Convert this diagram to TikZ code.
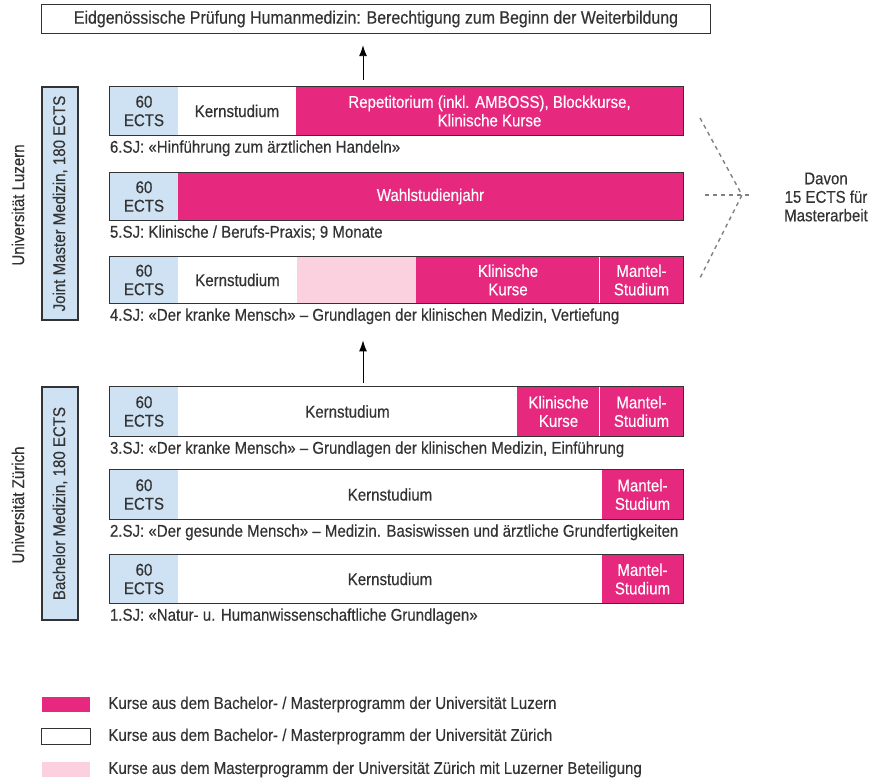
\documentclass[tikz,border=0pt]{standalone}
\usepackage{fontspec}
\setmainfont{Liberation Sans}[FakeStretch=0.885, FakeBold=0.35]
\usetikzlibrary{arrows.meta}
\usetikzlibrary{positioning}
\definecolor{luzern}{HTML}{E6287F}
\definecolor{ectsblue}{HTML}{CFE2F3}
\definecolor{mixpink}{HTML}{FBD0DF}
\definecolor{txt}{HTML}{333333}
\tikzset{>=latex}
\tikzstyle{seg}=[inner sep=0, align=center, text=txt, font=\fontsize{17}{18.5}\selectfont]
\tikzstyle{ects}=[seg, fill=ectsblue]
\tikzstyle{lu}=[seg, fill=luzern, text=white]
\tikzstyle{zh}=[seg, fill=white]
\tikzstyle{mix}=[seg, fill=mixpink]
\tikzstyle{bar frame}=[draw=txt, line width=1.2]
\tikzstyle{caption}=[anchor=north west, inner sep=0, text=txt, font=\fontsize{17}{18.5}\selectfont]
\tikzstyle{uni}=[inner sep=0, text=txt, rotate=90, font=\fontsize{17}{18.5}\selectfont]
\tikzstyle{step arrow}=[-{Latex[length=11,width=8]}, draw=black, line width=0.9]
\tikzstyle{thesis}=[draw=gray, line width=1.4, dash pattern=on 4pt off 4pt]
% segment: style, name, x1, x2, y1, y2
\newcommand\segbox[6]{\node[#1, minimum width={#4pt-#3pt}, minimum height={#6pt-#5pt}] (#2) at ({(#3+#4)/2},{(#5+#6)/2})}

\begin{document}
\begin{tikzpicture}[x=1pt,y=-1pt]
        \fill[white] (0,0) rectangle (882,778);
        \useasboundingbox (0,0) rectangle (882,778);

        % TOP BOX
        \segbox{zh}{top}{42}{710}{5}{33} {\fontsize{18}{20}\selectfont Eidgenössische Prüfung Humanmedizin: Berechtigung zum Beginn der Weiterbildung};
        \draw[bar frame] (top.north west) rectangle (top.south east);

        % 6. STUDIENJAHR
        \segbox{ects}{y6a}{110}{178}{87}{135} {60\\ECTS};
        \segbox{zh}{y6b}{178}{296}{87}{135} {Kernstudium};
        \segbox{lu}{y6c}{296}{683}{87}{135} {Repetitorium (inkl. AMBOSS), Blockkurse,\\Klinische Kurse};
        \draw[bar frame] (y6a.north west) rectangle (y6c.south east);
        \node[caption] (c6) at ([yshift=-5]y6a.south west) {6.SJ: «Hinführung zum ärztlichen Handeln»};

        % 5. STUDIENJAHR
        \segbox{ects}{y5a}{110}{178}{173}{220} {60\\ECTS};
        \segbox{lu}{y5b}{178}{683}{173}{220} {Wahlstudienjahr};
        \draw[bar frame] (y5a.north west) rectangle (y5b.south east);
        \node[caption] (c5) at ([yshift=-5]y5a.south west) {5.SJ: Klinische / Berufs-Praxis; 9 Monate};

        % 4. STUDIENJAHR
        \segbox{ects}{y4a}{110}{178}{257}{303} {60\\ECTS};
        \segbox{zh}{y4b}{178}{297}{257}{303} {Kernstudium};
        \segbox{mix}{y4c}{297}{416}{257}{303} {};
        \segbox{lu}{y4d}{416}{600}{257}{303} {Klinische\\Kurse};
        \segbox{lu}{y4e}{600}{683}{257}{303} {Mantel-\\Studium};
        \draw[white, line width=1] (y4e.north west) -- (y4e.south west);
        \draw[bar frame] (y4a.north west) rectangle (y4e.south east);
        \node[caption] (c4) at ([yshift=-5]y4a.south west) {4.SJ: «Der kranke Mensch» – Grundlagen der klinischen Medizin, Vertiefung};

        % 3. STUDIENJAHR
        \segbox{ects}{y3a}{110}{178}{387}{436} {60\\ECTS};
        \segbox{zh}{y3b}{178}{517}{387}{436} {Kernstudium};
        \segbox{lu}{y3c}{517}{600}{387}{436} {Klinische\\Kurse};
        \segbox{lu}{y3d}{600}{683}{387}{436} {Mantel-\\Studium};
        \draw[white, line width=1] (y3d.north west) -- (y3d.south west);
        \draw[bar frame] (y3a.north west) rectangle (y3d.south east);
        \node[caption] (c3) at ([yshift=-5]y3a.south west) {3.SJ: «Der kranke Mensch» – Grundlagen der klinischen Medizin, Einführung};

        % 2. + 1. STUDIENJAHR
        \segbox{ects}{y2a}{110}{178}{470}{519} {60\\ECTS};
        \segbox{zh}{y2b}{178}{602}{470}{519} {Kernstudium};
        \segbox{lu}{y2c}{602}{683}{470}{519} {Mantel-\\Studium};
        \draw[bar frame] (y2a.north west) rectangle (y2c.south east);
        \node[caption] (c2) at ([yshift=-5]y2a.south west) {2.SJ: «Der gesunde Mensch» – Medizin. Basiswissen und ärztliche Grundfertigkeiten};

        \segbox{ects}{y1a}{110}{178}{555}{603} {60\\ECTS};
        \segbox{zh}{y1b}{178}{602}{555}{603} {Kernstudium};
        \segbox{lu}{y1c}{602}{683}{555}{603} {Mantel-\\Studium};
        \draw[bar frame] (y1a.north west) rectangle (y1c.south east);
        \node[caption] (c1) at ([yshift=-5]y1a.south west) {1.SJ: «Natur- u. Humanwissenschaftliche Grundlagen»};

        % PROGRAMMES
        \node[ects, draw=txt, line width=1.2, rotate=90, minimum width=233, minimum height=36] (master) at (60,203.5) {Joint Master Medizin, 180 ECTS};
        \node[ects, draw=txt, line width=1.2, rotate=90, minimum width=233, minimum height=36] (bachelor) at (60,503.5) {Bachelor Medizin, 180 ECTS};
        \node[uni] (lu) at (18,205) {Universität Luzern};
        \node[uni] (zh) at (18,505) {Universität Zürich};

        % ARROWS
        \coordinate (a6) at (363,80);
        \coordinate (a3) at (363,383);
        \draw[step arrow] (a6) -- (a6 |- top.south) [shorten >=12];
        \draw[step arrow] (a3) -- ([yshift=-16]a3 |- c4.south);

        % MASTERARBEIT
        \coordinate (dv) at (742,195);
        \draw[thesis] (700,118) -- (dv) -- (700,278);
        \draw[thesis] (705,195) -- (752,195);
        \node[seg] (thesis) at (826,197) {Davon\\15 ECTS für\\Masterarbeit};

        % LEGEND
        \segbox{lu}{l1}{42}{90}{697}{712} {};
        \segbox{zh}{l2}{42}{90}{729}{744} {};
        \draw[draw=txt, line width=1] (l2.north west) rectangle (l2.south east);
        \segbox{mix}{l3}{42}{90}{762}{777} {};
        \node[caption, anchor=west, right=18 of l1] (t1) {Kurse aus dem Bachelor- / Masterprogramm der Universität Luzern};
        \node[caption, anchor=west, right=18 of l2] (t2) {Kurse aus dem Bachelor- / Masterprogramm der Universität Zürich};
        \node[caption, anchor=west, right=18 of l3] (t3) {Kurse aus dem Masterprogramm der Universität Zürich mit Luzerner Beteiligung};

    \end{tikzpicture}
\end{document}
